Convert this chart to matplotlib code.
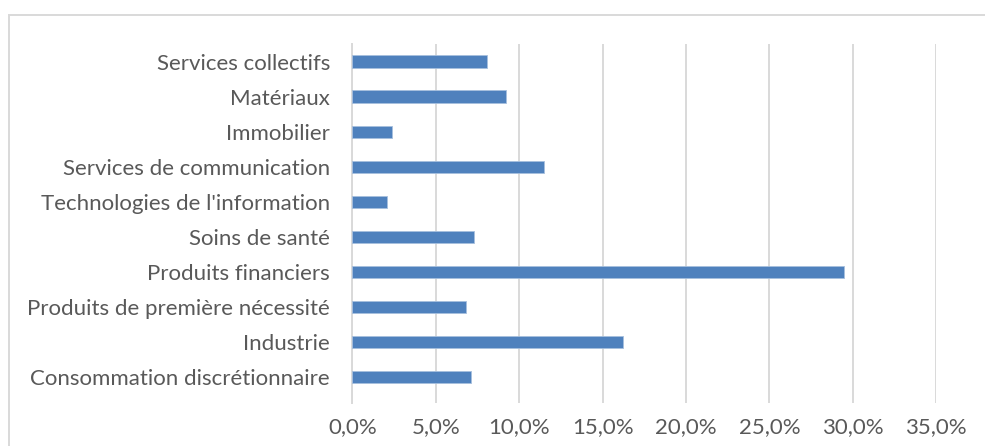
import matplotlib
matplotlib.use("Agg")
import matplotlib.pyplot as plt
from matplotlib.patches import Rectangle
from matplotlib.ticker import FuncFormatter

# Sectors listed bottom to top, as drawn by barh
sectors = [
    "Consommation discrétionnaire",
    "Industrie",
    "Produits de première nécessité",
    "Produits financiers",
    "Soins de santé",
    "Technologies de l'information",
    "Services de communication",
    "Immobilier",
    "Matériaux",
    "Services collectifs",
]
weights = [7.1, 16.2, 6.8, 29.5, 7.3, 2.1, 11.5, 2.4, 9.2, 8.1]
xticks = [0, 5, 10, 15, 20, 25, 30, 35]

BAR = "#4F81BD"
TEXT = "#595959"
GRID = "#D9D9D9"

plt.rcParams["font.family"] = ["Lato", "DejaVu Sans"]

W, H = 985, 446
fig = plt.figure(figsize=(W / 100, H / 100), dpi=100)
ax = fig.add_axes([352.3 / W, 1 - 403 / H, (936.2 - 352.3) / W, 359 / H])

ax.barh(range(len(sectors)), weights, height=0.35, color=BAR,
        edgecolor="#A7BFDE", linewidth=0.6, zorder=3)

ax.set_xlim(0, 35)
# gridlines run a little below the last category
ax.set_ylim(-0.74, len(sectors) - 0.5)
ax.set_xticks(xticks)
ax.xaxis.set_major_formatter(FuncFormatter(lambda v, p: f"{v:.1f}%".replace(".", ",")))
ax.set_yticks(range(len(sectors)))
ax.set_yticklabels(sectors)

ax.grid(axis="x", color=GRID, linewidth=1.4, zorder=0)
for side in ["top", "right", "bottom"]:
    ax.spines[side].set_visible(False)
ax.spines["left"].set_color(GRID)
ax.spines["left"].set_linewidth(1.4)

ax.tick_params(axis="x", length=0, pad=10, labelsize=16, labelcolor=TEXT)
ax.tick_params(axis="y", length=0, pad=16, labelsize=16, labelcolor=TEXT)

# chart area border (only top and left are inside the picture)
fig.patches.append(Rectangle((8.5 / W, -0.05), 1.1, 1 - 14.7 / H + 0.05,
                             transform=fig.transFigure, fill=False,
                             edgecolor=GRID, linewidth=1.4))

fig.savefig("out.png", dpi=100)
